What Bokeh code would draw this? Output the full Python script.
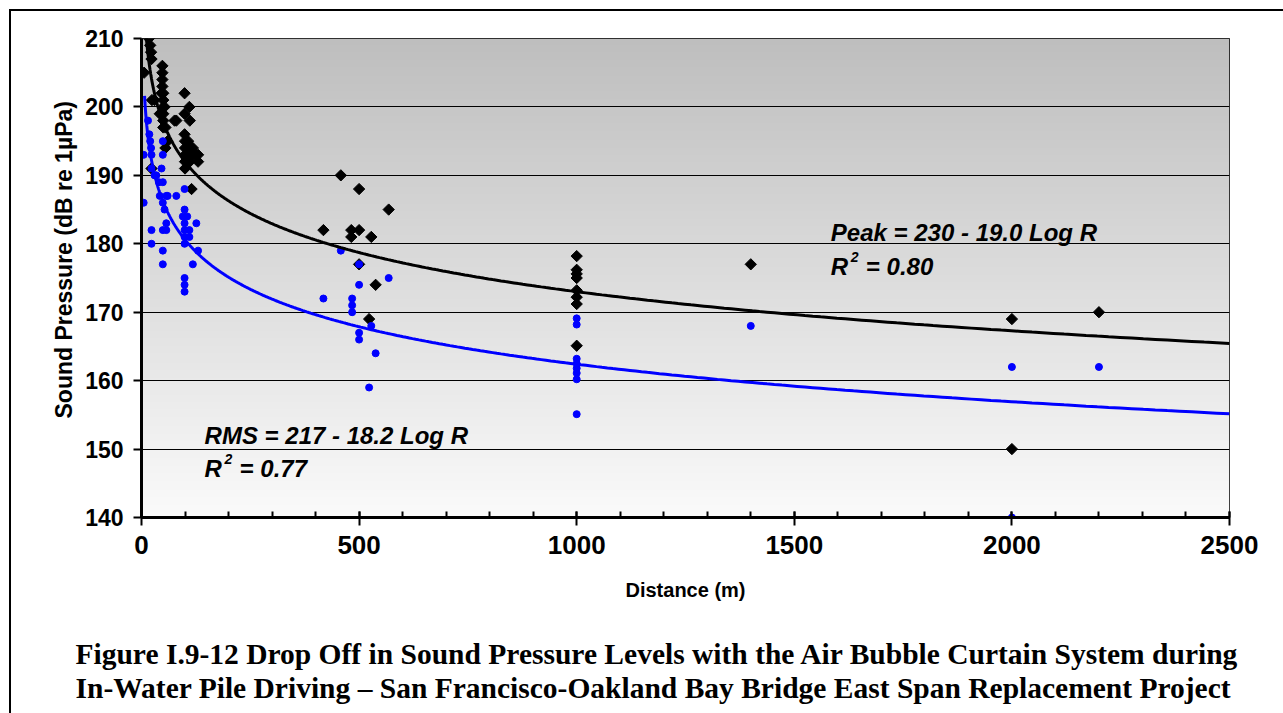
import numpy as np
from bokeh.plotting import figure
from bokeh.layouts import column
from bokeh.models import Range1d, Label, Title, FixedTicker, Div
from bokeh.core.properties import value
from bokeh.embed import file_html
from bokeh.resources import INLINE

# ---------------- data ----------------
peak_dist = [6, 17, 20, 22, 23, 24, 23, 30,
             42, 46, 48, 48, 48, 48, 50, 50, 50, 50, 50, 50, 53, 55, 55, 60, 76, 80,
             99, 99, 99, 100, 100, 100, 100, 100,
             107, 110, 111, 111, 111, 111, 115, 118, 118, 125, 130, 130,
             418, 458, 482, 482, 500, 500, 500, 523, 528, 538, 568,
             1000, 1000, 1000, 1000, 1000, 1000, 1000, 1000,
             1400, 2000, 2000, 2200]
peak_db = [205, 210, 209, 208, 207, 201, 191, 201,
           199, 202, 206, 205, 204, 203, 202, 201, 200, 199, 198, 197, 200, 197, 194, 195, 198, 198,
           202, 199, 196, 195, 194, 193, 192, 191,
           195, 200, 198, 194, 193, 192, 188, 194, 193, 193, 193, 192,
           182, 190, 182, 181, 188, 182, 177, 169, 181, 174, 185,
           178.2, 176.2, 175.6, 175.0, 173.2, 172.2, 171.2, 165.1,
           177, 169, 150, 170]

rms_dist = [5, 5, 15, 18, 20, 22, 23, 23, 23, 23, 30, 34, 40, 42, 46,
            49, 49, 49, 49, 49, 49, 49, 53, 57, 57, 57, 60, 80,
            99, 99, 95, 99, 99, 99, 99, 99, 99, 99, 105, 110, 110, 118, 126, 130,
            418, 458, 484, 484, 484, 500, 500, 500, 500, 523, 528, 538, 568,
            1000, 1000, 1000, 1000, 1000, 1000, 1000, 1000,
            1400, 2000, 2000, 2200]
rms_db = [193, 186, 198, 196, 195, 194, 193, 191, 182, 180, 190, 190, 189, 187, 191,
          195, 193, 189, 186, 182, 179, 177, 185, 187, 183, 182, 187, 187,
          188, 185, 184, 183, 182, 181, 180, 175, 174, 173, 184, 182, 181, 177, 183, 179,
          172, 179, 172, 171, 170, 177, 174, 167, 166, 159, 168, 164, 175,
          169.1, 168.2, 163.2, 162.5, 161.8, 161.1, 160.2, 155.1,
          168, 162, 140, 162]

peak_fit = (230.0, 19.0)   # Peak = 230 - 19.0 Log R
rms_fit = (217.0, 18.2)    # RMS  = 217 - 18.2 Log R
fit_start = 7

x_ticks = [0, 500, 1000, 1500, 2000, 2500]
x_minor = list(range(0, 2501, 100))
y_ticks = [140, 150, 160, 170, 180, 190, 200, 210]

y_title = "Sound Pressure (dB re 1\u00b5Pa)"
x_title = "Distance (m)"
caption_lines = ["Figure I.9-12  Drop Off in Sound Pressure Levels with the Air Bubble Curtain System during",
                 "In-Water Pile Driving \u2013 San Francisco-Oakland Bay Bridge East Span Replacement Project"]

SANS = "Liberation Sans"
SERIF = "Liberation Serif"

p = figure(width=1272, height=601, x_range=Range1d(0, 2500), y_range=Range1d(140, 210),
           output_backend="svg", toolbar_location=None,
           min_border_left=130, min_border_right=54, min_border_top=27, min_border_bottom=95,
           background_fill_color="white", border_fill_color="white")

# gradient plot background
n = 256
t = np.linspace(0.0, 1.0, n)
g = np.round(250 - 60 * t).astype(np.uint8)
img = np.empty((n, 1), dtype=np.uint32)
view = img.view(dtype=np.uint8).reshape((n, 1, 4))
view[:, 0, 0] = g
view[:, 0, 1] = g
view[:, 0, 2] = g
view[:, 0, 3] = 255
p.image_rgba(image=[img], x=0, y=140, dw=2500, dh=70, level="image")

# grid / outline
p.xgrid.visible = False
p.ygrid.ticker = FixedTicker(ticks=y_ticks)
p.ygrid.grid_line_color = "black"
p.ygrid.grid_line_width = 1
p.outline_line_color = "black"
p.outline_line_width = 1

# axes
p.xaxis.ticker = FixedTicker(ticks=x_ticks, minor_ticks=x_minor)
p.xaxis.axis_line_width = 3
p.xaxis.major_tick_line_width = 2
p.xaxis.minor_tick_line_width = 2
p.xaxis.major_tick_in = 6
p.xaxis.major_tick_out = 8
p.xaxis.minor_tick_in = 6
p.xaxis.minor_tick_out = 0
p.xaxis.major_label_text_font = SANS
p.xaxis.major_label_text_font_style = "bold"
p.xaxis.major_label_text_font_size = "26px"
p.xaxis.major_label_text_color = "black"
p.xaxis.major_label_standoff = 10
p.xaxis.axis_label = x_title
p.xaxis.axis_label_text_font = SANS
p.xaxis.axis_label_text_font_style = "bold"
p.xaxis.axis_label_text_font_size = "20px"
p.xaxis.axis_label_text_color = "black"
p.xaxis.axis_label_standoff = 22

p.yaxis.ticker = FixedTicker(ticks=y_ticks)
p.yaxis.axis_line_width = 3
p.yaxis.major_tick_line_width = 2
p.yaxis.major_tick_in = 0
p.yaxis.major_tick_out = 8
p.yaxis.minor_tick_line_color = None
p.yaxis.major_label_text_font = SANS
p.yaxis.major_label_text_font_style = "bold"
p.yaxis.major_label_text_font_size = "23px"
p.yaxis.major_label_text_color = "black"
p.yaxis.major_label_standoff = 10

# y-axis title as a side title
p.add_layout(Title(text=y_title, align="left", offset=99, text_font=SANS,
                   text_font_style="bold", text_font_size="23px", text_color="black",
                   standoff=12), "left")

# points
p.scatter(peak_dist, peak_db, marker="square", angle=np.pi / 4, size=8,
          fill_color="black", line_color="black")
p.scatter(rms_dist, rms_db, marker="circle", size=7,
          fill_color="#0000FF", line_color="#0000FF")

# fitted curves
R = np.logspace(np.log10(fit_start), np.log10(2500), 500)
p.line(R, peak_fit[0] - peak_fit[1] * np.log10(R), line_color="black", line_width=3)
p.line(R, rms_fit[0] - rms_fit[1] * np.log10(R), line_color="#0000FF", line_width=3)

# equations
def eq_label(x, y, txt, r2, y2):
    common = dict(text_font=SANS, text_font_style="bold italic", text_color="black",
                  text_baseline="middle")
    p.add_layout(Label(x=x, y=y, text=txt, text_font_size="24px", **common))
    p.add_layout(Label(x=x, y=y2, text="R", text_font_size="24px", **common))
    p.add_layout(Label(x=x, y=y2, x_offset=20, y_offset=10, text="2",
                       text_font_size="14px", **common))
    p.add_layout(Label(x=x, y=y2, x_offset=35, text="= " + r2,
                       text_font_size="24px", **common))

eq_label(1584, 181.65, "Peak = 230 - 19.0 Log R", "0.80", 176.68)
eq_label(145, 151.98, "RMS = 217 - 18.2 Log R", "0.77", 147.16)

# caption strip below the chart (pixel coordinates of the strip)
cap_h = 101
if "frame_align" in p.properties():
    p.frame_align = False
    cap = figure(width=1272, height=cap_h, x_range=Range1d(0, 1272), y_range=Range1d(0, cap_h),
                 x_axis_type=None, y_axis_type=None, output_backend="svg", toolbar_location=None,
                 min_border=0, background_fill_color="white", border_fill_color="white")
    cap.frame_align = False
    cap.grid.visible = False
    cap.outline_line_color = None
    cap.text(x=[64, 64], y=[60, 26], text=caption_lines, text_font=value(SERIF),
             text_font_style="bold", text_font_size="29.5px", text_color="black",
             text_align="left", text_baseline="middle")
else:
    cap = Div(text="<br>".join(caption_lines), width=1272, height=cap_h,
              styles={"font-family": SERIF, "font-weight": "bold", "font-size": "29.5px",
                      "line-height": "34px", "padding-left": "64px", "padding-top": "24px",
                      "color": "black", "white-space": "pre"})

layout = column(p, cap, spacing=0,
                styles={"margin-left": "9px", "margin-top": "9px",
                        "border-top": "2px solid black", "border-left": "2px solid black"})

open("out.html", "w").write(file_html(layout, INLINE))
